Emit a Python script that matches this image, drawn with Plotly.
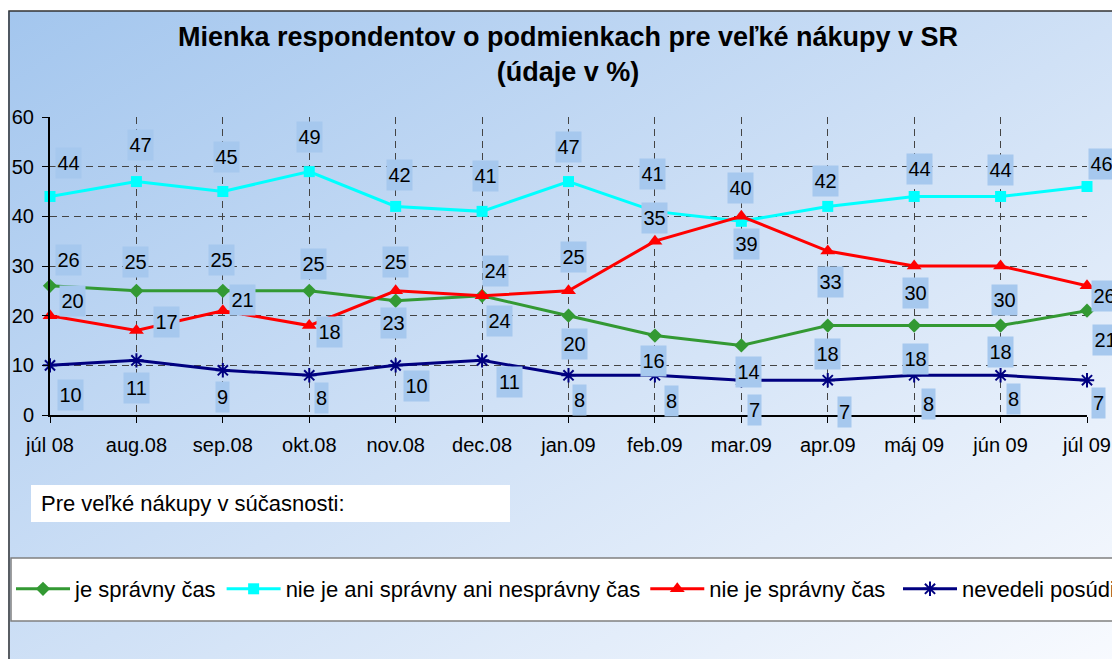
import base64
import plotly.graph_objects as go

# ---------------- data ----------------
categories = ["júl 08", "aug.08", "sep.08", "okt.08", "nov.08", "dec.08", "jan.09",
              "feb.09", "mar.09", "apr.09", "máj 09", "jún 09", "júl 09"]
je_spravny_cas = [26, 25, 25, 25, 23, 24, 20, 16, 14, 18, 18, 18, 21]
nie_je_ani = [44, 47, 45, 49, 42, 41, 47, 41, 39, 42, 44, 44, 46]
nie_je_spravny_cas = [20, 17, 21, 18, 25, 24, 25, 35, 40, 33, 30, 30, 26]
nevedeli_posudit = [10, 11, 9, 8, 10, 11, 8, 8, 7, 7, 8, 8, 7]
series_names = ["je správny čas", "nie je ani správny ani nesprávny čas",
                "nie je správny čas", "nevedeli posúdiť"]
title_text = "Mienka respondentov o podmienkach pre veľké nákupy v SR<br>(údaje v %)"
subtitle_box_text = "Pre veľké nákupy v súčasnosti:"

# ---------------- styles ----------------
FONT = "Liberation Sans, Arial, sans-serif"
colors = ["#339933", "#00FFFF", "#FF0000", "#000080"]
symbols = ["diamond", "square", "triangle-up", "asterisk-open"]
msizes = [11, 11, 13, 12]
legend_ids = ["legend", "legend", "legend", "legend2"]
LABEL_BG = "#a6c8ee"

# label offsets in pixels (dx right, dy down) per series / point
label_offsets = [
    [(18, -26), (-1, -29), (-1, -31), (4, -27), (-2, 22), (17, 25), (6, 28),
     (-1, 25), (7, 27), (0, 28), (1, 33), (0, 26), (18, 29)],
    [(18, -33), (4, -37), (4, -35), (0, -35), (4, -31), (3, -35), (0, -35),
     (-2, -37), (5, 23), (-2, -25), (5, -27), (0, -26), (14, -23)],
    [(22, -15), (30, -9), (20, -11), (20, 6), (0, -29), (13, -25), (5, -34),
     (0, -23), (-1, -28), (3, 31), (1, 27), (4, 34), (17, 10)],
    [(20, 30), (0, 28), (0, 27), (12, 23), (21, 21), (27, 22), (11, 25),
     (17, 26), (13, 30), (17, 32), (14, 29), (13, 24), (11, 23)],
]

# page body has an 8px margin: figure occupies window pixels 8..1120 / 8..659
OFF = 8
W, H = 1120 - OFF, 659 - OFF
ML, MR, MT, MB = 50 - OFF, 33, 117 - OFF, 244
PW, PH = W - ML - MR, H - MT - MB


def px_x(p):
    """window pixel x -> paper x"""
    return (p - OFF - ML) / PW


def px_y(p):
    """window pixel y -> paper y"""
    return (H - MB - (p - OFF)) / PH


all_series = [je_spravny_cas, nie_je_ani, nie_je_spravny_cas, nevedeli_posudit]

fig = go.Figure()
for name, vals, c, s, ms, lg in zip(series_names, all_series, colors, symbols, msizes, legend_ids):
    fig.add_trace(go.Scatter(
        x=categories, y=vals, name=name, mode="lines+markers",
        line=dict(color=c, width=3),
        marker=dict(symbol=s, size=ms, color=c,
                    line=dict(color=c, width=2 if "asterisk" in s else 0)),
        cliponaxis=False, legend=lg,
    ))

annotations = []
for vals, offs in zip(all_series, label_offsets):
    for cat, v, (dx, dy) in zip(categories, vals, offs):
        annotations.append(dict(
            x=cat, y=v, xref="x", yref="y", text=str(v), showarrow=False,
            xshift=dx, yshift=-dy, bgcolor=LABEL_BG, borderpad=0,
            width=12 * len(str(v)) + 1, height=30,
            font=dict(family=FONT, size=20, color="black"),
        ))

annotations.append(dict(
    x=px_x(39), y=px_y(503), xref="paper", yref="paper", xanchor="left",
    yanchor="middle", text=subtitle_box_text, showarrow=False,
    font=dict(family=FONT, size=22, color="black"),
))

# gradient background as SVG
svg = (
    '<svg xmlns="http://www.w3.org/2000/svg" width="100" height="100" preserveAspectRatio="none">'
    '<defs><linearGradient id="g" x1="0" y1="0" x2="1" y2="1">'
    '<stop offset="0" stop-color="#a3c6ee"/>'
    '<stop offset="0.5" stop-color="#d0e1f6"/>'
    '<stop offset="1" stop-color="#fbfcff"/>'
    '</linearGradient></defs>'
    '<rect width="100" height="100" fill="url(#g)"/></svg>'
)
src = "data:image/svg+xml;base64," + base64.b64encode(svg.encode()).decode()

shapes = [
    # chart border
    dict(type="rect", xref="paper", yref="paper",
         x0=px_x(9), x1=px_x(1140), y0=px_y(11), y1=px_y(700),
         line=dict(color="#333333", width=1.5), fillcolor="rgba(0,0,0,0)", layer="below"),
    # subtitle white box
    dict(type="rect", xref="paper", yref="paper",
         x0=px_x(31), x1=px_x(510), y0=px_y(485), y1=px_y(522),
         line=dict(width=0), fillcolor="white", layer="below"),
    # legend box
    dict(type="rect", xref="paper", yref="paper",
         x0=px_x(11), x1=px_x(1140), y0=px_y(558), y1=px_y(621),
         line=dict(color="#808080", width=1.5), fillcolor="white", layer="below"),
]

legend_common = dict(orientation="h", yanchor="middle", xanchor="left",
                     bgcolor="rgba(0,0,0,0)", borderwidth=0, itemwidth=54,
                     font=dict(family=FONT, size=22, color="black"), traceorder="normal")

grid_dash = "7px,5px"
fig.update_layout(
    width=W, height=H,
    margin=dict(l=ML, r=MR, t=MT, b=MB, autoexpand=False),
    paper_bgcolor="white", plot_bgcolor="rgba(0,0,0,0)",
    font=dict(family=FONT, color="black"),
    title=dict(text="<b>" + title_text.replace("<br>", "</b><br><b>") + "</b>",
               x=(568 - OFF) / W, xanchor="center", y=1 - (46 - OFF) / H, yanchor="middle",
               font=dict(family=FONT, size=27, color="black")),
    images=[dict(source=src, xref="paper", yref="paper", x=px_x(8), y=px_y(11),
                 sizex=(1140 - 8) / PW, sizey=(700 - 11) / PH,
                 xanchor="left", yanchor="top", sizing="stretch", layer="below")],
    shapes=shapes,
    annotations=annotations,
    showlegend=True,
    legend=dict(legend_common, x=px_x(11), y=px_y(589)),
    legend2=dict(legend_common, x=px_x(898), y=px_y(589)),
    xaxis=dict(type="category", range=[0, len(categories) - 1],
               showgrid=True, gridcolor="#444444", griddash=grid_dash, gridwidth=1,
               showline=True, linecolor="black", linewidth=2,
               ticks="outside", ticklen=6, tickcolor="black",
               tickfont=dict(family=FONT, size=20, color="black"),
               ticklabelstandoff=5, zeroline=False, fixedrange=True),
    yaxis=dict(range=[0, 60], dtick=10, tick0=0,
               showgrid=True, gridcolor="#444444", griddash=grid_dash, gridwidth=1,
               showline=True, linecolor="black", linewidth=2,
               ticks="outside", ticklen=6, tickcolor="black",
               tickfont=dict(family=FONT, size=20, color="black"),
               ticklabelstandoff=4, zeroline=False, fixedrange=True),
)

fig.write_html("out.html")
